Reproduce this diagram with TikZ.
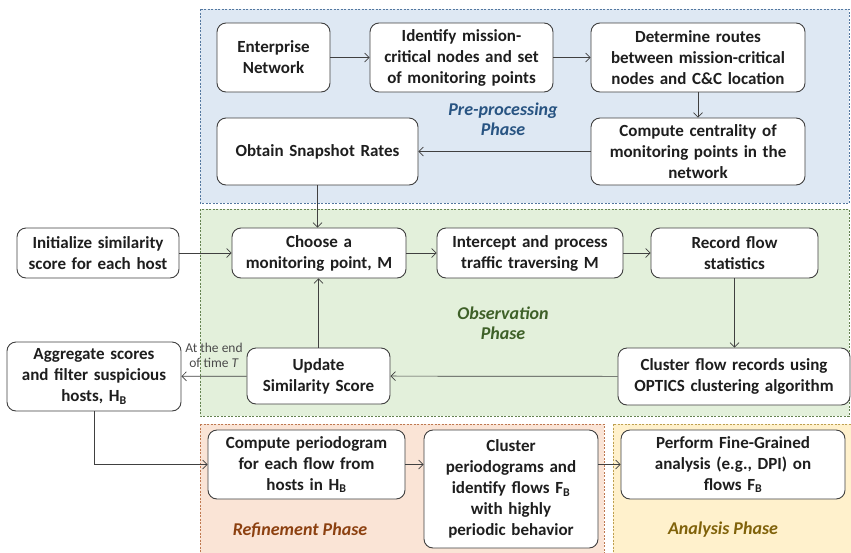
\documentclass[tikz,border=0pt]{standalone}
\usepackage{fontspec}
\setmainfont{Carlito}
\usepackage{tikz}
\usetikzlibrary{arrows.meta,positioning,calc}
\definecolor{preFill}{RGB}{222,232,243}
\definecolor{preLine}{RGB}{84,120,160}
\definecolor{preText}{RGB}{40,84,130}
\definecolor{obsFill}{RGB}{227,240,219}
\definecolor{obsLine}{RGB}{100,130,80}
\definecolor{obsText}{RGB}{62,96,40}
\definecolor{refFill}{RGB}{250,228,214}
\definecolor{refLine}{RGB}{190,120,80}
\definecolor{refText}{RGB}{140,64,16}
\definecolor{anaFill}{RGB}{255,241,204}
\definecolor{anaLine}{RGB}{190,160,80}
\definecolor{anaText}{RGB}{128,98,10}
\definecolor{ink}{RGB}{30,30,30}

\begin{document}
\begin{tikzpicture}[x=1pt,y=-1pt,
    stepbox/.style={draw=ink!85,line width=0.9pt,fill=white,
      rounded corners=9pt,align=center,inner sep=1pt,
      font=\fontsize{17}{21}\selectfont\bfseries,text=ink},
    flow/.style={draw=ink!85,line width=0.7pt,
      -{Straight Barb[length=4.5pt,width=9pt]}},
    phase/.style={dash pattern=on 2pt off 1.5pt,line width=0.6pt},
    phaselabel/.style={align=center,
      font=\fontsize{18}{20.5}\selectfont\bfseries\itshape}]
  \useasboundingbox (0,0) rectangle (851,552);

  % phase regions
  \draw[phase,fill=preFill,draw=preLine] (200,9) rectangle (849,203);
  \draw[phase,fill=obsFill,draw=obsLine] (200,209) rectangle (849,416);
  \draw[phase,fill=refFill,draw=refLine] (200,424) rectangle (604,560);
  \draw[phase,fill=anaFill,draw=anaLine] (613,424) rectangle (860,560);

  \node[phaselabel,text=preText] (preLbl) at (503,119) {Pre-processing\\Phase};
  \node[phaselabel,text=obsText] (obsLbl) at (503,323) {Observation\\Phase};
  \node[phaselabel,text=refText] (refLbl) at (300,530) {Refinement Phase};
  \node[phaselabel,text=anaText] (anaLbl) at (723,530) {Analysis Phase};

  % pre-processing
  \node[stepbox,minimum width=113,minimum height=69,text width=105] (ent) at (273.5,57.5)
    {Enterprise\\Network};
  \node[stepbox,minimum width=183,minimum height=69,text width=175] (ident) at (461.5,57.5)
    {Identify mission-\\critical nodes and set\\of monitoring points};
  \node[stepbox,minimum width=214,minimum height=69,text width=206] (route) at (698,57.5)
    {Determine routes\\between mission-critical\\nodes and C\&C location};
  \node[stepbox,minimum width=214,minimum height=67,text width=206] (cent) at (698,151.5)
    {Compute centrality of\\monitoring points in the\\network};
  \node[stepbox,minimum width=201,minimum height=67,text width=193] (snap) at (317.5,151.5)
    {Obtain Snapshot Rates};

  % observation
  \node[stepbox,minimum width=162,minimum height=50,text width=154] (init) at (98,253)
    {Initialize similarity\\score for each host};
  \node[stepbox,minimum width=174,minimum height=50,text width=166] (choose) at (319,253)
    {Choose a\\monitoring point, M};
  \node[stepbox,minimum width=186,minimum height=50,text width=178] (inter) at (530,253)
    {Intercept and process\\traffic traversing M};
  \node[stepbox,minimum width=167,minimum height=50,text width=159] (rec) at (734.5,253)
    {Record flow\\statistics};
  \node[stepbox,minimum width=232,minimum height=57,text width=224] (optics) at (734,376.5)
    {Cluster flow records using\\OPTICS clustering algorithm};
  \node[stepbox,minimum width=143,minimum height=56,text width=135] (upd) at (318.5,376)
    {Update\\Similarity Score};
  \node[stepbox,minimum width=174,minimum height=69,text width=166] (agg) at (94,376.5)
    {Aggregate scores\\and filter suspicious\\hosts, H\textsubscript{B}};

  % refinement and analysis
  \node[stepbox,minimum width=197,minimum height=69,text width=189] (pgram) at (306.5,464.5)
    {Compute periodogram\\for each flow from\\hosts in H\textsubscript{B}};
  \node[stepbox,minimum width=174,minimum height=118,text width=166] (cpgram) at (511,489)
    {Cluster\\periodograms and\\identify flows F\textsubscript{B}\\with highly\\periodic behavior};
  \node[stepbox,minimum width=224,minimum height=69,text width=216] (fine) at (733,464.5)
    {Perform Fine-Grained\\analysis (e.g., DPI) on\\flows F\textsubscript{B}};

  % connectors
  \draw[flow] (ent) -- (ident);
  \draw[flow] (ident) -- (route);
  \draw[flow] (route) -- (cent);
  \draw[flow] (cent) -- (snap);
  \draw[flow] (snap) -- (snap |- choose.north);
  \draw[flow] (init) -- (choose);
  \draw[flow] (choose) -- (inter);
  \draw[flow] (inter) -- (rec);
  \draw[flow] (rec) -- (rec |- optics.north);
  \draw[flow] (optics) -- (upd);
  \draw[flow] (upd) -- (upd |- choose.south);
  \draw[flow] (upd) -- node[above=8pt,inner sep=0pt,align=center,text=ink!80,
      font=\fontsize{13.5}{15.5}\selectfont] (endLbl) {At the end\\of time \textit{T}} (agg);
  \draw[flow] (agg.south) |- (pgram.west);
  \draw[flow] (pgram.east) -- (pgram.east -| cpgram.west);
  \draw[flow] (cpgram.east |- fine.west) -- (fine.west);
\end{tikzpicture}
\end{document}
